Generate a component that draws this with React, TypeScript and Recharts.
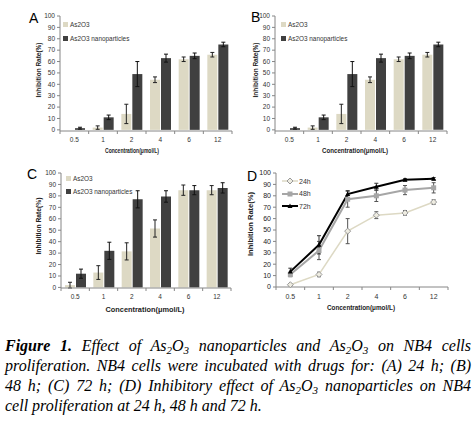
import React from "react";
import { BarChart, Bar, LineChart, Line, XAxis, YAxis, ErrorBar } from "recharts";

const BEIGE = "#ddd9c4";
const DARK = "#404040";
const GREY = "#a6a6a6";
const AXIS = "#868686";
const TEXT = "#333";
const FONT = '"Liberation Sans", Arial, sans-serif';

const CONCENTRATIONS = ["0.5", "1", "2", "4", "6", "12"];
const Y_TICKS = [0, 10, 20, 30, 40, 50, 60, 70, 80, 90, 100];

// (A) 24 h
const A_AS2O3 = [0, 2, 14, 44, 62, 66];
const A_AS2O3_ERR = [1, 1.5, 8.5, 2.5, 2, 2];
const A_NANO = [1.5, 11, 49, 63, 65, 75];
const A_NANO_ERR = [0.8, 2, 11, 3.5, 2.5, 2];

// (B) 48 h
const B_AS2O3 = [0, 2, 14, 44, 62, 66];
const B_AS2O3_ERR = [1, 1.5, 8.5, 2.5, 2, 2];
const B_NANO = [1.5, 11, 49, 63, 65, 75];
const B_NANO_ERR = [0.8, 2, 11, 3.5, 2.5, 2];

// (C) 72 h
const C_AS2O3 = [2, 13, 31.5, 51.5, 85, 85];
const C_AS2O3_ERR = [2.5, 6, 7.5, 7.5, 4.5, 4];
const C_NANO = [12, 32, 77, 79.5, 85, 87];
const C_NANO_ERR = [4, 7.5, 7.5, 5, 4, 4.5];

// (D) nanoparticles over time
const D_24H = [2, 11, 49, 63, 65, 74.5];
const D_24H_ERR = [1, 2, 11, 3, 2, 2];
const D_48H = [11, 32, 77, 80, 85, 87];
const D_48H_ERR = [2, 8, 7, 5, 4, 4.5];
const D_72H = [13.5, 37, 81.5, 88, 94, 95];
const D_72H_ERR = [3, 8, 3, 3, 1, 1];

const barRows = (a: number[], aErr: number[], n: number[], nErr: number[]) =>
  CONCENTRATIONS.map((c, i) => ({ conc: c, as2o3: a[i], as2o3Err: aErr[i], nano: n[i], nanoErr: nErr[i] }));

const lineRows = CONCENTRATIONS.map((c, i) => ({
  conc: c,
  h24: D_24H[i], h24Err: D_24H_ERR[i],
  h48: D_48H[i], h48Err: D_48H_ERR[i],
  h72: D_72H[i], h72Err: D_72H_ERR[i],
}));

// x ticks: label at category centre, tick marks between categories (Excel style)
const makeXTick = (band: number, fontSize: number, dy: number) => (props: any) => {
  const { x, y, payload, index } = props;
  return (
    <g>
      <line x1={x - band / 2} y1={y} x2={x - band / 2} y2={y + 3} stroke={AXIS} />
      {index === CONCENTRATIONS.length - 1 && <line x1={x + band / 2} y1={y} x2={x + band / 2} y2={y + 3} stroke={AXIS} />}
      <text x={x} y={y + dy} textAnchor="middle" fontSize={fontSize} fill={TEXT} fontFamily={FONT}>
        {payload.value}
      </text>
    </g>
  );
};

const xTitle = (text: string, cx: number, baseline: number, len: number, size: number) => () => (
  <text x={cx} y={baseline} textAnchor="middle" fontSize={size} fontWeight="bold" fill="#222" fontFamily={FONT}
    textLength={len} lengthAdjust="spacingAndGlyphs">
    {text}
  </text>
);

const yTitle = (text: string, cx: number, cy: number, len: number, size: number) => () => (
  <text transform={`translate(${cx},${cy}) rotate(-90)`} textAnchor="middle" dominantBaseline="central" fontSize={size}
    fontWeight="bold" fill="#222" fontFamily={FONT} textLength={len} lengthAdjust="spacingAndGlyphs">
    {text}
  </text>
);

interface BarPanelProps {
  left: number;
  top: number;
  letter: string;
  letterPos: [number, number];
  data: any[];
  margin: { top: number; right: number; bottom: number; left: number };
  yWidth: number;
  yTitlePos: [number, number, number];
  xTitlePos: [number, number, number];
  legendPos: [number, number, number];
}

const BarPanel: React.FC<BarPanelProps> = ({ left, top, letter, letterPos, data, margin, yWidth, yTitlePos, xTitlePos, legendPos }) => {
  const W = 240;
  const H = 160;
  const band = (W - margin.left - margin.right - yWidth) / CONCENTRATIONS.length;
  return (
    <div style={{ position: "absolute", left, top, width: W, height: H }}>
      <BarChart width={W} height={H} data={data} margin={margin} barSize={10} barGap={1}>
        <XAxis dataKey="conc" stroke={AXIS} tickLine={false} tickSize={0} tickMargin={0} height={H - margin.top - margin.bottom - 115}
          tick={makeXTick(band, 6.5, 11)} interval={0}
          label={xTitle("Concentration(μmol/L)", xTitlePos[0], xTitlePos[1], xTitlePos[2], 7.5)} />
        <YAxis domain={[0, 100]} ticks={Y_TICKS} interval={0} width={yWidth} stroke={AXIS} tickSize={3} tickMargin={2}
          tick={{ fontSize: 6.5, fill: TEXT, fontFamily: FONT }}
          label={yTitle("Inhibition Rate(%)", yTitlePos[0], yTitlePos[1], yTitlePos[2], 7.5)} />
        <Bar dataKey="as2o3" fill={BEIGE} isAnimationActive={false}>
          <ErrorBar dataKey="as2o3Err" width={2} stroke="#222" strokeWidth={1} direction="y" />
        </Bar>
        <Bar dataKey="nano" fill={DARK} isAnimationActive={false}>
          <ErrorBar dataKey="nanoErr" width={2} stroke="#111" strokeWidth={1} direction="y" />
        </Bar>
      </BarChart>
      <div style={{ position: "absolute", left: letterPos[0], top: letterPos[1], fontFamily: FONT, fontSize: 14, lineHeight: "14px" }}>
        {letter}
      </div>
      <div style={{ position: "absolute", left: legendPos[0], top: legendPos[1], fontFamily: FONT, fontSize: 6.4, color: TEXT, lineHeight: "7px" }}>
        {[{ c: BEIGE, t: "As2O3" }, { c: DARK, t: "As2O3 nanoparticles" }].map((it, i) => (
          <div key={i} style={{ display: "flex", alignItems: "center", height: 7, marginBottom: i === 0 ? legendPos[2] - 7 : 0, whiteSpace: "nowrap" }}>
            <span style={{ display: "inline-block", width: 5, height: 5, background: it.c, marginRight: 2 }} />
            {it.t}
          </div>
        ))}
      </div>
    </div>
  );
};

const Diamond = (p: any) => {
  const { cx, cy } = p;
  if (cx == null || cy == null) return null;
  return <path d={`M${cx},${cy - 3}L${cx + 3},${cy}L${cx},${cy + 3}L${cx - 3},${cy}Z`} fill="#eeece1" stroke="#999" strokeWidth={1} />;
};
const Square = (p: any) => {
  const { cx, cy } = p;
  if (cx == null || cy == null) return null;
  return <rect x={cx - 2.5} y={cy - 2.5} width={5} height={5} fill={GREY} />;
};
const Triangle = (p: any) => {
  const { cx, cy } = p;
  if (cx == null || cy == null) return null;
  return <path d={`M${cx},${cy - 2.5}L${cx + 2.5},${cy + 2}L${cx - 2.5},${cy + 2}Z`} fill="#000" />;
};

const LinePanel: React.FC = () => {
  const W = 240;
  const H = 160;
  const margin = { top: 13, right: 27, bottom: 7, left: 1 };
  const yWidth = 40;
  const band = (W - margin.left - margin.right - yWidth) / CONCENTRATIONS.length;
  const legend = [
    { t: "24h", c: BEIGE, w: 1.5, m: "d" },
    { t: "48h", c: GREY, w: 2, m: "s" },
    { t: "72h", c: "#000", w: 2, m: "t" },
  ];
  return (
    <div style={{ position: "absolute", left: 235, top: 160, width: W, height: H }}>
      <LineChart width={W} height={H} data={lineRows} margin={margin}>
        <XAxis dataKey="conc" stroke={AXIS} tickLine={false} tickSize={0} tickMargin={0} height={26} interval={0}
          padding={{ left: band / 2, right: band / 2 }}
          tick={makeXTick(band, 7, 11.5)}
          label={xTitle("Concentration(μmol/L)", 126, 150, 68, 7)} />
        <YAxis domain={[0, 100]} ticks={Y_TICKS} interval={0} width={yWidth} stroke={AXIS} tickSize={3} tickMargin={2}
          tick={{ fontSize: 7, fill: "#222", fontFamily: FONT }}
          label={yTitle("Inhibition  Rate(%)", 15, 64, 64, 6.5)} />
        <Line dataKey="h24" stroke={BEIGE} strokeWidth={1.5} dot={<Diamond />} isAnimationActive={false}>
          <ErrorBar dataKey="h24Err" width={2} stroke="#555" strokeWidth={1} direction="y" />
        </Line>
        <Line dataKey="h48" stroke={GREY} strokeWidth={2} dot={<Square />} isAnimationActive={false}>
          <ErrorBar dataKey="h48Err" width={2} stroke="#555" strokeWidth={1} direction="y" />
        </Line>
        <Line dataKey="h72" stroke="#000" strokeWidth={2} dot={<Triangle />} isAnimationActive={false}>
          <ErrorBar dataKey="h72Err" width={2} stroke="#333" strokeWidth={1} direction="y" />
        </Line>
      </LineChart>
      <div style={{ position: "absolute", left: 12, top: 9, fontFamily: FONT, fontSize: 14, lineHeight: "14px" }}>D</div>
      <div style={{ position: "absolute", left: 47, top: 15, fontFamily: FONT, fontSize: 7, color: TEXT }}>
        {legend.map((it, i) => (
          <div key={i} style={{ display: "flex", alignItems: "center", height: 12.5, whiteSpace: "nowrap" }}>
            <svg width={16} height={8} style={{ marginRight: 1 }}>
              <line x1={0} y1={4} x2={16} y2={4} stroke={it.c} strokeWidth={it.w} />
              {it.m === "d" && <Diamond cx={8} cy={4} />}
              {it.m === "s" && <Square cx={8} cy={4} />}
              {it.m === "t" && <Triangle cx={8} cy={4} />}
            </svg>
            {it.t}
          </div>
        ))}
      </div>
    </div>
  );
};

const sub = (d: string) => <span style={{ fontSize: 11, position: "relative", top: 3, lineHeight: 0 }}>{d}</span>;
const As2O3 = () => (
  <>
    As{sub("2")}O{sub("3")}
  </>
);

const lineStyle: React.CSSProperties = { textAlign: "justify", textAlignLast: "justify", height: 20, whiteSpace: "nowrap" };

export default function App() {
  return (
    <div style={{ position: "absolute", left: 0, top: 0, width: 475, height: 424, background: "#fff", overflow: "hidden" }}>
      <BarPanel left={0} top={0} letter="A" letterPos={[29, 11]} data={barRows(A_AS2O3, A_AS2O3_ERR, A_NANO, A_NANO_ERR)}
        margin={{ top: 16, right: 8, bottom: 3, left: 15 }} yWidth={45}
        yTitlePos={[38, 70, 55]} xTitlePos={[132, 153, 54]} legendPos={[63, 21, 14]} />
      <BarPanel left={235} top={0} letter="B" letterPos={[16, 10]} data={barRows(B_AS2O3, B_AS2O3_ERR, B_NANO, B_NANO_ERR)}
        margin={{ top: 16, right: 28, bottom: 3, left: 0 }} yWidth={40}
        yTitlePos={[20, 70, 55]} xTitlePos={[120, 153, 66]} legendPos={[46, 21, 14]} />
      <BarPanel left={0} top={160} letter="C" letterPos={[27, 7]} data={barRows(C_AS2O3, C_AS2O3_ERR, C_NANO, C_NANO_ERR)}
        margin={{ top: 13, right: 9, bottom: 7, left: 16 }} yWidth={45}
        yTitlePos={[38, 66, 57]} xTitlePos={[145, 152, 79]} legendPos={[66, 15, 13]} />
      <LinePanel />
      <div style={{ position: "absolute", left: 5, top: 336, width: 466, fontFamily: '"Liberation Serif", "Times New Roman", serif',
        fontStyle: "italic", fontSize: 16, lineHeight: "20px", color: "#000" }}>
        <div style={lineStyle}>
          <b>Figure 1.</b> Effect of <As2O3 /> nanoparticles and <As2O3 /> on NB4 cells
        </div>
        <div style={lineStyle}>proliferation. NB4 cells were incubated with drugs for: (A) 24 h; (B)</div>
        <div style={lineStyle}>
          48 h; (C) 72 h; (D) Inhibitory effect of <As2O3 /> nanoparticles on NB4
        </div>
        <div style={{ height: 20, whiteSpace: "nowrap" }}>cell proliferation at 24 h, 48 h and 72 h.</div>
      </div>
    </div>
  );
}
